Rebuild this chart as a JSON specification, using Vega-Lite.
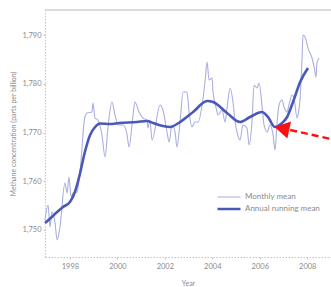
{
  "$schema": "https://vega.github.io/schema/vega-lite/v6.json",
  "width": 286,
  "height": 247,
  "autosize": "none",
  "padding": {"left": 45, "top": 10, "right": 0, "bottom": 30},
  "background": "white",
  "config": {
    "view": {"stroke": null},
    "font": "Lato",
    "axis": {"grid": false, "labelColor": "#8a8a8a", "titleColor": "#8a8a8a", "labelFontSize": 7.5, "titleFontSize": 7, "titleFontWeight": "normal", "domainColor": "#c4c4c4", "domainDash": [1.5, 1.5], "domainWidth": 1, "tickColor": "#c4c4c4", "tickSize": 2},
    "legend": {"labelColor": "#8a8a8a", "labelFontSize": 8}
  },
  "datasets": {
    "monthly": [
      {"year": 1996.95, "ppb": 1752.05, "series": "Monthly mean"},
      {"year": 1997.08, "ppb": 1755.13, "series": "Monthly mean"},
      {"year": 1997.16, "ppb": 1750.62, "series": "Monthly mean"},
      {"year": 1997.24, "ppb": 1753.69, "series": "Monthly mean"},
      {"year": 1997.37, "ppb": 1751.64, "series": "Monthly mean"},
      {"year": 1997.46, "ppb": 1747.95, "series": "Monthly mean"},
      {"year": 1997.58, "ppb": 1750.62, "series": "Monthly mean"},
      {"year": 1997.79, "ppb": 1759.64, "series": "Monthly mean"},
      {"year": 1997.88, "ppb": 1757.59, "series": "Monthly mean"},
      {"year": 1997.96, "ppb": 1760.87, "series": "Monthly mean"},
      {"year": 1998.05, "ppb": 1756.77, "series": "Monthly mean"},
      {"year": 1998.13, "ppb": 1757.59, "series": "Monthly mean"},
      {"year": 1998.30, "ppb": 1757.80, "series": "Monthly mean"},
      {"year": 1998.42, "ppb": 1761.69, "series": "Monthly mean"},
      {"year": 1998.63, "ppb": 1773.18, "series": "Monthly mean"},
      {"year": 1998.72, "ppb": 1774.00, "series": "Monthly mean"},
      {"year": 1998.93, "ppb": 1774.21, "series": "Monthly mean"},
      {"year": 1998.97, "ppb": 1776.05, "series": "Monthly mean"},
      {"year": 1999.06, "ppb": 1772.97, "series": "Monthly mean"},
      {"year": 1999.18, "ppb": 1772.56, "series": "Monthly mean"},
      {"year": 1999.35, "ppb": 1769.49, "series": "Monthly mean"},
      {"year": 1999.48, "ppb": 1764.97, "series": "Monthly mean"},
      {"year": 1999.60, "ppb": 1770.92, "series": "Monthly mean"},
      {"year": 1999.77, "ppb": 1776.26, "series": "Monthly mean"},
      {"year": 1999.90, "ppb": 1773.59, "series": "Monthly mean"},
      {"year": 2000.03, "ppb": 1771.54, "series": "Monthly mean"},
      {"year": 2000.24, "ppb": 1771.54, "series": "Monthly mean"},
      {"year": 2000.41, "ppb": 1769.49, "series": "Monthly mean"},
      {"year": 2000.49, "ppb": 1767.03, "series": "Monthly mean"},
      {"year": 2000.66, "ppb": 1773.59, "series": "Monthly mean"},
      {"year": 2000.74, "ppb": 1776.26, "series": "Monthly mean"},
      {"year": 2000.91, "ppb": 1774.21, "series": "Monthly mean"},
      {"year": 2001.08, "ppb": 1772.97, "series": "Monthly mean"},
      {"year": 2001.25, "ppb": 1772.56, "series": "Monthly mean"},
      {"year": 2001.29, "ppb": 1770.92, "series": "Monthly mean"},
      {"year": 2001.37, "ppb": 1772.56, "series": "Monthly mean"},
      {"year": 2001.46, "ppb": 1768.46, "series": "Monthly mean"},
      {"year": 2001.80, "ppb": 1775.64, "series": "Monthly mean"},
      {"year": 2001.92, "ppb": 1774.62, "series": "Monthly mean"},
      {"year": 2002.09, "ppb": 1770.10, "series": "Monthly mean"},
      {"year": 2002.18, "ppb": 1768.05, "series": "Monthly mean"},
      {"year": 2002.30, "ppb": 1771.54, "series": "Monthly mean"},
      {"year": 2002.43, "ppb": 1770.10, "series": "Monthly mean"},
      {"year": 2002.51, "ppb": 1767.03, "series": "Monthly mean"},
      {"year": 2002.64, "ppb": 1772.15, "series": "Monthly mean"},
      {"year": 2002.77, "ppb": 1778.31, "series": "Monthly mean"},
      {"year": 2002.93, "ppb": 1778.31, "series": "Monthly mean"},
      {"year": 2003.02, "ppb": 1774.21, "series": "Monthly mean"},
      {"year": 2003.14, "ppb": 1771.13, "series": "Monthly mean"},
      {"year": 2003.27, "ppb": 1772.15, "series": "Monthly mean"},
      {"year": 2003.40, "ppb": 1772.15, "series": "Monthly mean"},
      {"year": 2003.57, "ppb": 1775.64, "series": "Monthly mean"},
      {"year": 2003.69, "ppb": 1780.36, "series": "Monthly mean"},
      {"year": 2003.78, "ppb": 1784.46, "series": "Monthly mean"},
      {"year": 2003.86, "ppb": 1780.77, "series": "Monthly mean"},
      {"year": 2003.99, "ppb": 1781.18, "series": "Monthly mean"},
      {"year": 2004.03, "ppb": 1778.31, "series": "Monthly mean"},
      {"year": 2004.16, "ppb": 1775.03, "series": "Monthly mean"},
      {"year": 2004.24, "ppb": 1773.59, "series": "Monthly mean"},
      {"year": 2004.41, "ppb": 1774.62, "series": "Monthly mean"},
      {"year": 2004.54, "ppb": 1772.15, "series": "Monthly mean"},
      {"year": 2004.62, "ppb": 1775.03, "series": "Monthly mean"},
      {"year": 2004.75, "ppb": 1779.13, "series": "Monthly mean"},
      {"year": 2004.87, "ppb": 1776.26, "series": "Monthly mean"},
      {"year": 2004.96, "ppb": 1772.15, "series": "Monthly mean"},
      {"year": 2005.04, "ppb": 1770.10, "series": "Monthly mean"},
      {"year": 2005.17, "ppb": 1768.46, "series": "Monthly mean"},
      {"year": 2005.29, "ppb": 1771.54, "series": "Monthly mean"},
      {"year": 2005.46, "ppb": 1770.92, "series": "Monthly mean"},
      {"year": 2005.55, "ppb": 1767.44, "series": "Monthly mean"},
      {"year": 2005.67, "ppb": 1772.15, "series": "Monthly mean"},
      {"year": 2005.76, "ppb": 1779.74, "series": "Monthly mean"},
      {"year": 2005.88, "ppb": 1779.13, "series": "Monthly mean"},
      {"year": 2005.97, "ppb": 1780.15, "series": "Monthly mean"},
      {"year": 2006.09, "ppb": 1775.64, "series": "Monthly mean"},
      {"year": 2006.18, "ppb": 1771.54, "series": "Monthly mean"},
      {"year": 2006.31, "ppb": 1770.10, "series": "Monthly mean"},
      {"year": 2006.43, "ppb": 1771.54, "series": "Monthly mean"},
      {"year": 2006.56, "ppb": 1769.49, "series": "Monthly mean"},
      {"year": 2006.64, "ppb": 1766.41, "series": "Monthly mean"},
      {"year": 2006.73, "ppb": 1772.15, "series": "Monthly mean"},
      {"year": 2006.81, "ppb": 1775.64, "series": "Monthly mean"},
      {"year": 2006.94, "ppb": 1776.67, "series": "Monthly mean"},
      {"year": 2007.02, "ppb": 1775.23, "series": "Monthly mean"},
      {"year": 2007.15, "ppb": 1774.21, "series": "Monthly mean"},
      {"year": 2007.23, "ppb": 1775.64, "series": "Monthly mean"},
      {"year": 2007.36, "ppb": 1777.69, "series": "Monthly mean"},
      {"year": 2007.44, "ppb": 1777.08, "series": "Monthly mean"},
      {"year": 2007.57, "ppb": 1772.97, "series": "Monthly mean"},
      {"year": 2007.61, "ppb": 1773.59, "series": "Monthly mean"},
      {"year": 2007.70, "ppb": 1777.08, "series": "Monthly mean"},
      {"year": 2007.78, "ppb": 1785.28, "series": "Monthly mean"},
      {"year": 2007.82, "ppb": 1790.00, "series": "Monthly mean"},
      {"year": 2007.95, "ppb": 1788.97, "series": "Monthly mean"},
      {"year": 2008.03, "ppb": 1787.33, "series": "Monthly mean"},
      {"year": 2008.20, "ppb": 1785.28, "series": "Monthly mean"},
      {"year": 2008.29, "ppb": 1783.44, "series": "Monthly mean"},
      {"year": 2008.37, "ppb": 1781.38, "series": "Monthly mean"},
      {"year": 2008.41, "ppb": 1784.26, "series": "Monthly mean"},
      {"year": 2008.50, "ppb": 1785.28, "series": "Monthly mean"}
    ],
    "annual": [
      {"year": 1996.95, "ppb": 1751.43, "series": "Annual running mean"},
      {"year": 1997.24, "ppb": 1752.67, "series": "Annual running mean"},
      {"year": 1997.46, "ppb": 1753.69, "series": "Annual running mean"},
      {"year": 1997.71, "ppb": 1754.72, "series": "Annual running mean"},
      {"year": 1998.00, "ppb": 1755.74, "series": "Annual running mean"},
      {"year": 1998.21, "ppb": 1757.80, "series": "Annual running mean"},
      {"year": 1998.42, "ppb": 1761.49, "series": "Annual running mean"},
      {"year": 1998.63, "ppb": 1766.00, "series": "Annual running mean"},
      {"year": 1998.85, "ppb": 1769.49, "series": "Annual running mean"},
      {"year": 1999.06, "ppb": 1771.13, "series": "Annual running mean"},
      {"year": 1999.27, "ppb": 1771.85, "series": "Annual running mean"},
      {"year": 1999.69, "ppb": 1771.74, "series": "Annual running mean"},
      {"year": 2000.07, "ppb": 1771.95, "series": "Annual running mean"},
      {"year": 2000.83, "ppb": 1772.15, "series": "Annual running mean"},
      {"year": 2001.25, "ppb": 1772.36, "series": "Annual running mean"},
      {"year": 2001.50, "ppb": 1771.95, "series": "Annual running mean"},
      {"year": 2001.92, "ppb": 1771.33, "series": "Annual running mean"},
      {"year": 2002.22, "ppb": 1771.13, "series": "Annual running mean"},
      {"year": 2002.64, "ppb": 1772.15, "series": "Annual running mean"},
      {"year": 2003.19, "ppb": 1774.21, "series": "Annual running mean"},
      {"year": 2003.78, "ppb": 1776.46, "series": "Annual running mean"},
      {"year": 2004.03, "ppb": 1776.26, "series": "Annual running mean"},
      {"year": 2004.62, "ppb": 1774.00, "series": "Annual running mean"},
      {"year": 2005.17, "ppb": 1772.15, "series": "Annual running mean"},
      {"year": 2005.59, "ppb": 1773.18, "series": "Annual running mean"},
      {"year": 2006.09, "ppb": 1774.21, "series": "Annual running mean"},
      {"year": 2006.34, "ppb": 1773.18, "series": "Annual running mean"},
      {"year": 2006.64, "ppb": 1771.13, "series": "Annual running mean"},
      {"year": 2006.94, "ppb": 1771.95, "series": "Annual running mean"},
      {"year": 2007.15, "ppb": 1773.18, "series": "Annual running mean"},
      {"year": 2007.40, "ppb": 1776.26, "series": "Annual running mean"},
      {"year": 2007.70, "ppb": 1780.36, "series": "Annual running mean"},
      {"year": 2008.03, "ppb": 1783.23, "series": "Annual running mean"}
    ],
    "arrowLine": [{"year": 2007.28, "ppb": 1770.51, "year2": 2009.0, "ppb2": 1768.67}],
    "arrowHead": [{"year": 2006.93, "ppb": 1770.82}]
  },
  "layer": [
    {
      "data": {"values": [{"top": 1795.13}]},
      "mark": {"type": "rule", "color": "#d0d0d0", "strokeWidth": 1.5},
      "encoding": {"y": {"field": "top", "type": "quantitative", "scale": {"domain": [1744.46, 1795.13], "nice": false, "zero": false},
              "axis": {"title": "Methane concentration (parts per billion)", "values": [1750, 1760, 1770, 1780, 1790], "format": ",d", "labelPadding": 2, "titlePadding": 5}}}
    },
    {
      "data": {"name": "monthly"},
      "mark": {"type": "line", "interpolate": "monotone"},
      "encoding": {
        "x": {"field": "year", "type": "quantitative", "scale": {"domain": [1996.95, 2009.0], "nice": false, "zero": false},
              "axis": {"title": "Year", "values": [1998, 2000, 2002, 2004, 2006, 2008], "format": "d", "labelPadding": 3, "titlePadding": 10}},
        "y": {"field": "ppb", "type": "quantitative"},
        "color": {"field": "series", "type": "nominal",
                  "scale": {"domain": ["Monthly mean", "Annual running mean"], "range": ["#aaaee0", "#4a58b8"]},
                  "legend": {"title": null, "orient": "none", "legendX": 171, "legendY": 181, "symbolType": "stroke", "symbolSize": 529, "clipHeight": 12, "rowPadding": 0, "labelOffset": 3}},
        "strokeWidth": {"field": "series", "type": "nominal",
                  "scale": {"domain": ["Monthly mean", "Annual running mean"], "range": [1.1, 2.6]},
                  "legend": {"title": null, "orient": "none", "legendX": 171, "legendY": 181, "symbolType": "stroke", "symbolSize": 529, "clipHeight": 12, "rowPadding": 0, "labelOffset": 3}}
      }
    },
    {
      "data": {"name": "annual"},
      "mark": {"type": "line", "interpolate": "monotone"},
      "encoding": {
        "x": {"field": "year", "type": "quantitative"},
        "y": {"field": "ppb", "type": "quantitative"},
        "color": {"field": "series", "type": "nominal"},
        "strokeWidth": {"field": "series", "type": "nominal"}
      }
    },
    {
      "data": {"name": "arrowLine"},
      "mark": {"type": "rule", "color": "#ff1010", "strokeWidth": 2.5, "strokeDash": [7, 4]},
      "encoding": {
        "x": {"field": "year", "type": "quantitative"},
        "y": {"field": "ppb", "type": "quantitative"},
        "x2": {"field": "year2"},
        "y2": {"field": "ppb2"}
      }
    },
    {
      "data": {"name": "arrowHead"},
      "mark": {"type": "point", "shape": "triangle-left", "filled": true, "color": "#ff1010", "opacity": 1, "size": 300, "angle": 12},
      "encoding": {
        "x": {"field": "year", "type": "quantitative"},
        "y": {"field": "ppb", "type": "quantitative"}
      }
    }
  ]
}
